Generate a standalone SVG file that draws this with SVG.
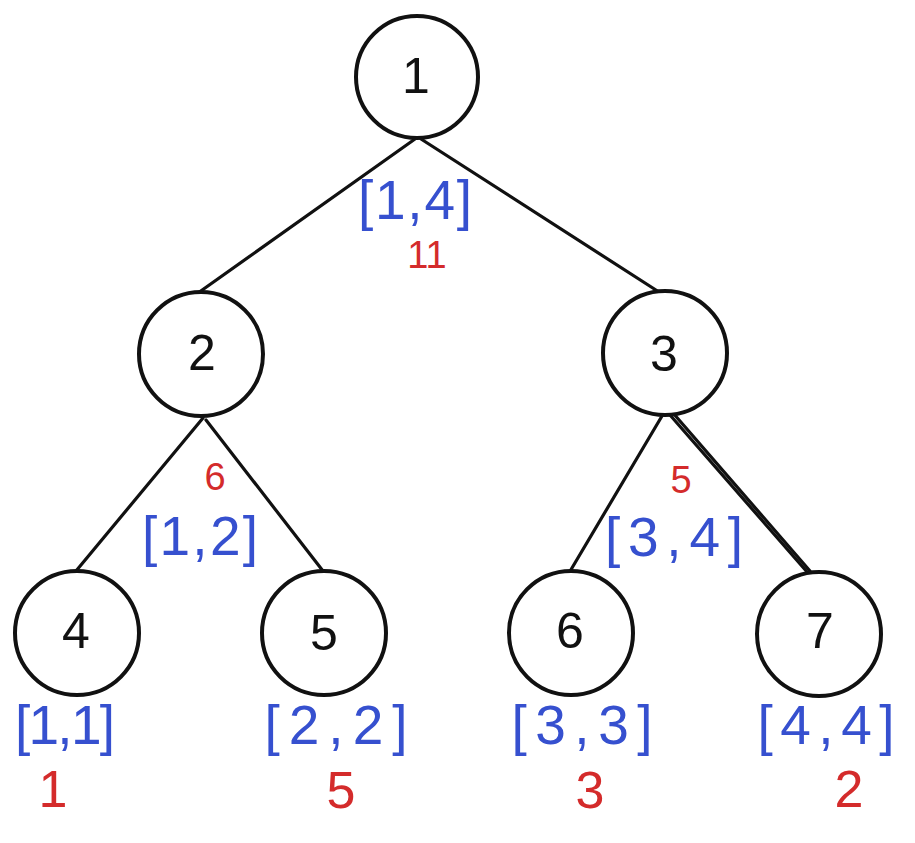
<svg xmlns="http://www.w3.org/2000/svg" width="915" height="843" viewBox="0 0 915 843">
  <style>
    .node { fill: #ffffff; stroke: #111111; stroke-width: 4; }
    .edge { fill: none; stroke: #111111; stroke-width: 3.2; stroke-linecap: round; }
    .num { font-family: "Liberation Sans", "DejaVu Sans", sans-serif; font-size: 50px; fill: #111111; text-anchor: middle; }
    .rng { font-family: "Liberation Sans", "DejaVu Sans", sans-serif; font-size: 55px; fill: #3650cf; text-anchor: middle; }
    .sum { font-family: "Liberation Sans", "DejaVu Sans", sans-serif; font-size: 38px; fill: #d42b2b; text-anchor: middle; }
    .sumL { font-family: "Liberation Sans", "DejaVu Sans", sans-serif; font-size: 52px; fill: #d42b2b; text-anchor: middle; }
  </style>
  <rect width="915" height="843" fill="#ffffff"/>
  <g id="connectors">
    <path class="edge" d="M415,139 L198,293"/>
    <path class="edge" d="M421,139 L659,292"/>
    <path class="edge" d="M203,418 L76,571"/>
    <path class="edge" d="M206,420 L323,571"/>
    <path class="edge" d="M662,416 L569,573"/>
    <path class="edge" d="M670,415 L808,573"/>
    <path class="edge" d="M673,413 L810,571" stroke-width="1.5"/>
  </g>
  <g id="node1">
    <circle class="node" cx="417" cy="77" r="61"/>
    <text class="num" x="416" y="93">1</text>
    <text class="rng" x="415" y="219" textLength="114" lengthAdjust="spacing">[1,4]</text>
    <text class="sum" x="427" y="268">11</text>
  </g>
  <g id="node2">
    <circle class="node" cx="201" cy="354" r="62"/>
    <text class="num" x="202" y="370">2</text>
    <text class="sum" x="215" y="490">6</text>
    <text class="rng" x="200" y="555" textLength="116" lengthAdjust="spacing">[1,2]</text>
  </g>
  <g id="node3">
    <circle class="node" cx="665" cy="353" r="62"/>
    <text class="num" x="664" y="371">3</text>
    <text class="sum" x="681" y="493">5</text>
    <text class="rng" x="674" y="556" textLength="138" lengthAdjust="spacing">[3,4]</text>
  </g>
  <g id="node4">
    <circle class="node" cx="77" cy="633" r="62"/>
    <text class="num" x="76" y="648">4</text>
    <text class="rng" x="65" y="744" textLength="100" lengthAdjust="spacing">[1,1]</text>
    <text class="sumL" x="53" y="807">1</text>
  </g>
  <g id="node5">
    <circle class="node" cx="324" cy="633" r="62"/>
    <text class="num" x="324" y="650">5</text>
    <text class="rng" x="336" y="744" textLength="143" lengthAdjust="spacing">[2,2]</text>
    <text class="sumL" x="341" y="808">5</text>
  </g>
  <g id="node6">
    <circle class="node" cx="571" cy="633" r="62"/>
    <text class="num" x="570" y="648">6</text>
    <text class="rng" x="582" y="744" textLength="141" lengthAdjust="spacing">[3,3]</text>
    <text class="sumL" x="590" y="808">3</text>
  </g>
  <g id="node7">
    <circle class="node" cx="819" cy="634" r="62"/>
    <text class="num" x="820" y="648">7</text>
    <text class="rng" x="826" y="744" textLength="137" lengthAdjust="spacing">[4,4]</text>
    <text class="sumL" x="849" y="807">2</text>
  </g>
</svg>
